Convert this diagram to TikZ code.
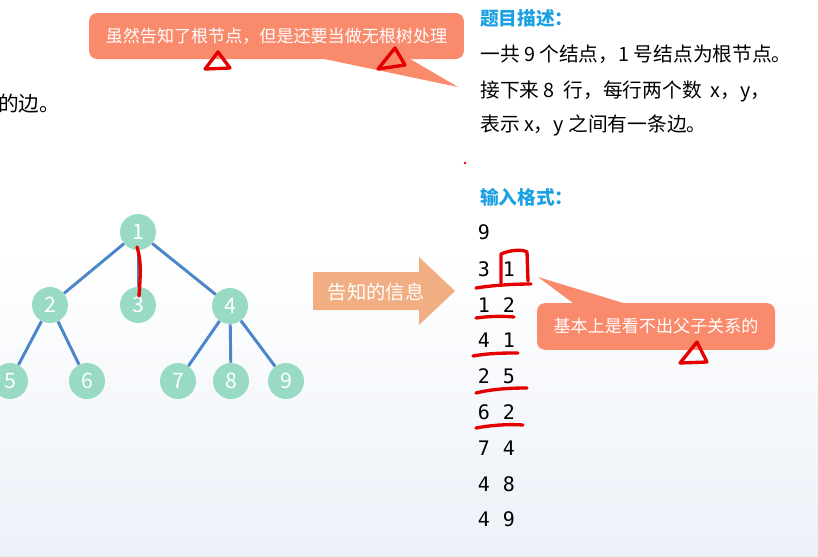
\documentclass[tikz,border=0pt]{standalone}
\usepackage{fontspec}
\setmainfont{Noto Sans CJK SC}
\newfontfamily\digitfont{DejaVu Sans Mono}
\usepackage{tikz}

\definecolor{mint}{RGB}{152,218,196}
\definecolor{edgeblue}{RGB}{74,134,200}
\definecolor{salmon}{RGB}{250,138,108}
\definecolor{peach}{RGB}{241,174,130}
\definecolor{headblue}{RGB}{28,160,228}
\definecolor{inkred}{RGB}{228,0,0}
\definecolor{bgblue}{RGB}{236,241,248}

\begin{document}
\begin{tikzpicture}[x=0.75pt,y=-0.75pt]
    \useasboundingbox (0,0) rectangle (818,557);
    \fill[white] (0,0) rectangle (818,557);
    \shade[top color=white,bottom color=bgblue] (0,250) rectangle (818,557);

    % tree
    \begin{scope}[every node/.style={fill=mint,circle,minimum size=27pt,inner sep=0pt,
                                     text=white,font=\fontsize{16}{16}\selectfont}]
        \node (1) at (138,232) {1};
        \node (2) at (50,305) {2};
        \node (3) at (138,305) {3};
        \node (4) at (230,306) {4};
        \node (5) at (10,381) {5};
        \node (6) at (87,381) {6};
        \node (7) at (178,381) {7};
        \node (8) at (231,381) {8};
        \node (9) at (286,381) {9};
    \end{scope}

    \begin{scope}[every edge/.style={draw=edgeblue,line width=2.2pt}]
        \path (1) edge (2);
        \path (1) edge (3);
        \path (1) edge (4);
        \path (2) edge (5);
        \path (2) edge (6);
        \path (4) edge (7);
        \path (4) edge (8);
        \path (4) edge (9);
    \end{scope}

    % text on the left
    \node[anchor=west,inner sep=0pt,font=\fontsize{15.5}{15.5}\selectfont] (edgeword) at (-2,104) {的边。};

    % arrow
    \fill[peach] (313,272) -- (419,272) -- (419,257) -- (455,291) -- (419,325)
                 -- (419,310) -- (313,310) -- cycle;
    \node[text=white,font=\fontsize{14.5}{14.5}\selectfont] (info) at (376,292) {告知的信息};

    % description
    \begin{scope}[every node/.style={anchor=west,inner sep=0pt,font=\fontsize{14.8}{14.8}\selectfont}]
        \node[text=headblue,font=\fontsize{14}{14}\selectfont\bfseries] (desc) at (480,18) {题目描述：};
        \node (line1) at (480,54) {一共 9 个结点，1 号结点为根节点。};
        \node (line2) at (480,91) {接下来 8\ \ 行，每行两个数\ \ x，y，};
        \node (line3) at (480,125) {表示 x，y 之间有一条边。};
        \node[text=headblue,font=\fontsize{14}{14}\selectfont\bfseries] (fmt) at (480,197) {输入格式：};
    \end{scope}

    % input
    \begin{scope}[every node/.style={inner sep=0pt,font=\digitfont\fontsize{15}{15}\selectfont}]
        \node (n) at (484,232) {9};
        \node (a1) at (484,269) {3}; \node (b1) at (509,269) {1};
        \node (a2) at (484,305) {1}; \node (b2) at (509,305) {2};
        \node (a3) at (484,340) {4}; \node (b3) at (509,340) {1};
        \node (a4) at (484,376) {2}; \node (b4) at (509,376) {5};
        \node (a5) at (484,412) {6}; \node (b5) at (509,412) {2};
        \node (a6) at (484,448) {7}; \node (b6) at (509,448) {4};
        \node (a7) at (484,484) {4}; \node (b7) at (509,484) {8};
        \node (a8) at (484,519) {4}; \node (b8) at (509,519) {9};
    \end{scope}

    % callouts
    \begin{scope}[every node/.style={fill=salmon,rounded corners=6pt,text=white,
                                     font=\fontsize{12.8}{12.8}\selectfont}]
        \node[minimum width=281pt,minimum height=34.5pt] (hint1) at (276.5,36)
            {虽然告知了根节点，但是还要当做无根树处理};
        \node[minimum width=178.5pt,minimum height=35pt] (hint2) at (656,326.5)
            {基本上是看不出父子关系的};
    \end{scope}
    \fill[salmon] (310,56) -- (458,87) -- (405,56) -- cycle;
    \fill[salmon] (577,306) -- (538,277) -- (633,306) -- cycle;

    % red marks
    \begin{scope}[draw=inkred,line width=2.5pt,line cap=round,line join=round]
        \draw[inkred] (137,247) .. controls (142,262) and (140,280) .. (139,296);
        \draw[inkred] (218,52) -- (205,69) -- (230,68) -- cycle;
        \draw[inkred] (395,48) -- (378,69) -- (405,65) -- cycle;
        \draw[inkred] (697,342) -- (680,363) -- (707,362) -- cycle;
        \draw[inkred] (501,283) -- (501,254) .. controls (510,250) and (522,249) .. (527,252) -- (528,281);
        \draw[inkred] (476,288) .. controls (495,285) and (515,284) .. (531,284);
        \draw[inkred] (476,318) .. controls (490,316) and (505,316) .. (514,317);
        \draw[inkred] (473,356) .. controls (490,353) and (505,353) .. (518,353);
        \draw[inkred] (476,393) .. controls (492,389) and (510,388) .. (527,388);
        \draw[inkred] (476,428) .. controls (492,425) and (510,424) .. (523,425);
    \end{scope}
    \fill[inkred] (465,163) circle (1pt);
\end{tikzpicture}
\end{document}
